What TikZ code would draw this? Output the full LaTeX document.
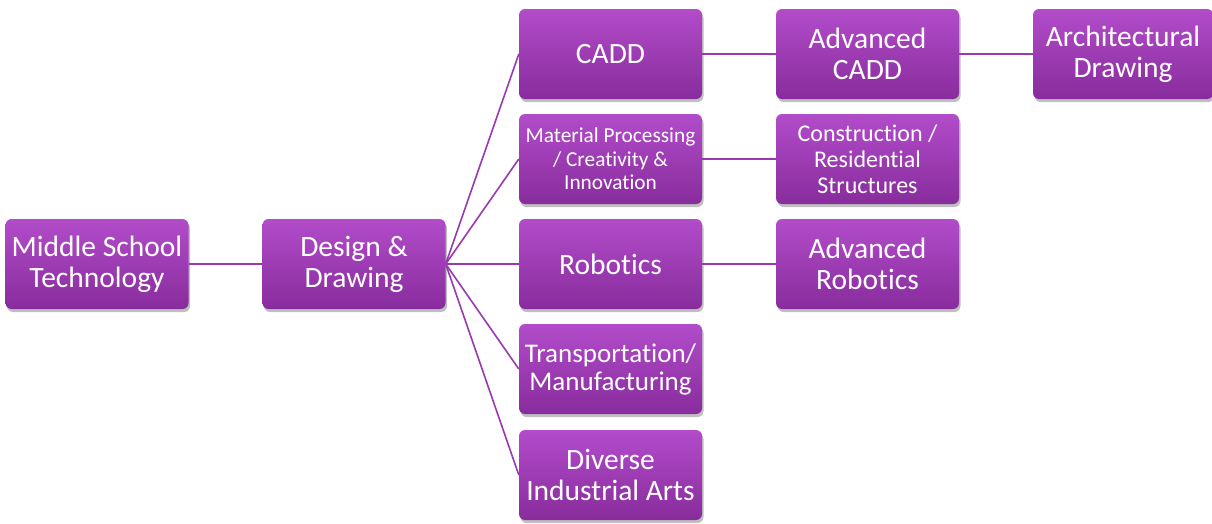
\documentclass[tikz,border=0pt]{standalone}
\usepackage{fontspec}
\setmainfont{Carlito}[Ligatures=NoCommon]
\usetikzlibrary{shadows}
\definecolor{ptop}{HTML}{B24CCA}
\definecolor{pbot}{HTML}{882C9C}
\definecolor{pline}{HTML}{9A38B0}
\tikzset{
  box/.style={rectangle, rounded corners=6pt, top color=ptop, bottom color=pbot,
    draw=none, text=white, align=center, inner sep=1pt,
    minimum width=183pt, minimum height=90pt,
    drop shadow={shadow xshift=1.5pt, shadow yshift=-3pt, opacity=0.25, fill=black}},
  conn/.style={draw=pline, line width=1.6pt},
  big/.style={font=\fontsize{29.5}{31}\selectfont},
  mid/.style={font=\fontsize{27}{28}\selectfont},
  med/.style={font=\fontsize{24}{26}\selectfont},
  small/.style={font=\fontsize{21.3}{23.5}\selectfont},
}
\begin{document}
\begin{tikzpicture}[x=1pt,y=-1pt]
\useasboundingbox (0,0) rectangle (1212,523);
\node[box,big] (mst) at (97,264) {Middle School\\Technology};
\node[box,big] (dd) at (354,264) {Design \&\\Drawing};
\node[box,big] (cadd) at (610.5,54) {CADD};
\node[box,small] (mat) at (610.5,159) {Material Processing\\/ Creativity \&\\Innovation};
\node[box,big] (rob) at (610.5,264) {Robotics};
\node[box,mid] (trans) at (610.5,369) {Transportation/\\Manufacturing};
\node[box,big] (div) at (610.5,475) {Diverse\\Industrial Arts};
\node[box,big] (acadd) at (867.5,54) {Advanced\\CADD};
\node[box,med] (cons) at (867.5,159) {Construction /\\Residential\\Structures};
\node[box,big] (arob) at (867.5,264) {Advanced\\Robotics};
\node[box,big,minimum width=180pt] (arch) at (1123,54) {Architectural\\Drawing};
\draw[conn] (mst.east) -- (dd.west);
\foreach \t in {cadd,mat,rob,trans,div}{\draw[conn] (dd.east) -- (\t.west);}
\draw[conn] (cadd.east) -- (acadd.west);
\draw[conn] (acadd.east) -- (arch.west);
\draw[conn] (mat.east) -- (cons.west);
\draw[conn] (rob.east) -- (arob.west);
\end{tikzpicture}
\end{document}
